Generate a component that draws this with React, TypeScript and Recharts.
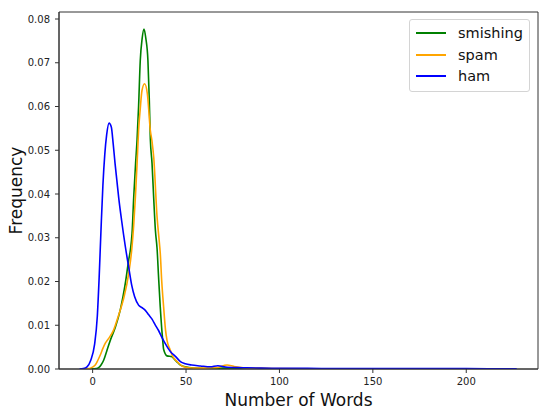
import { LineChart, Line, XAxis, YAxis, Legend, ReferenceArea } from 'recharts';

// x ticks and axis range
const xTicks = [0, 50, 100, 150, 200];
const yTicks = [0, 0.01, 0.02, 0.03, 0.04, 0.05, 0.06, 0.07, 0.08];
const X_MIN = -18;
const X_MAX = 238.4;
const Y_MAX = 0.0816;

// smishing density (number of words vs frequency)
const smishingWords = [-3, 0, 2, 3.2, 4.5, 5.9, 7.7, 9.5, 12.2, 14.8, 17.5, 19.3, 20.2, 21.1, 22, 23, 23.8, 24.6, 25.5, 26.5, 27.5, 28.5, 29.6, 30.3, 30.9, 31.8, 32.7, 33.6, 34.5, 35.3, 36.2, 37.5, 38, 39.8, 42.5, 43.4, 45, 47, 49.6, 54, 60, 70, 75, 85, 100, 115];
const smishingFreq = [0, 0.00005, 0.0001, 0.0003, 0.0009, 0.002, 0.0043, 0.0066, 0.0096, 0.0135, 0.0196, 0.0249, 0.0272, 0.031, 0.0393, 0.047, 0.0525, 0.06, 0.0705, 0.0755, 0.0777, 0.0755, 0.0705, 0.062, 0.0525, 0.047, 0.039, 0.0317, 0.0275, 0.021, 0.0142, 0.0066, 0.0045, 0.003, 0.0028, 0.0024, 0.0017, 0.0009, 0.0005, 0.0002, 0.0001, 0.0002, 0.0002, 0.0001, 0.00005, 0];

// spam density
const spamWords = [-5, -2, -1.2, 1.4, 2.8, 4.1, 5.5, 6.8, 8.6, 11.2, 13.9, 16.6, 19.3, 21.1, 22, 22.9, 23.8, 24.6, 25.5, 26.4, 27.8, 29.3, 30.9, 31.8, 32.7, 34.5, 35.7, 36.2, 37, 38, 39, 39.8, 41.6, 42.5, 45.2, 48.7, 54, 60, 66, 72, 75.5, 80.7, 90, 100, 120, 150];
const spamFreq = [0, 0.0001, 0.0002, 0.0009, 0.002, 0.0032, 0.0047, 0.0059, 0.007, 0.0089, 0.0123, 0.0161, 0.0218, 0.028, 0.033, 0.0393, 0.047, 0.0545, 0.0595, 0.0636, 0.0652, 0.0629, 0.0545, 0.052, 0.0484, 0.0347, 0.029, 0.0265, 0.02, 0.0142, 0.009, 0.0066, 0.0043, 0.0032, 0.0017, 0.0005, 0.0002, 0.0002, 0.0003, 0.0009, 0.0006, 0.0003, 0.0002, 0.0001, 0.00005, 0];

// ham density
const hamWords = [-7, -5, -3, -1, 1, 2.5, 3.5, 4.5, 5.5, 6.5, 7.5, 8.8, 10, 11, 12, 13, 14, 15.5, 17.5, 19.3, 21, 22.5, 24.6, 26.5, 28.2, 30, 31.8, 33.5, 35.3, 37, 38.9, 41.6, 44.3, 47, 49.6, 53, 57.7, 63, 67, 72, 80, 90, 100, 115, 130, 160, 200, 227];
const hamFreq = [0, 0.0001, 0.0005, 0.002, 0.0055, 0.012, 0.021, 0.032, 0.042, 0.049, 0.0535, 0.0562, 0.0553, 0.0515, 0.047, 0.043, 0.039, 0.034, 0.028, 0.0233, 0.019, 0.0165, 0.0146, 0.014, 0.0134, 0.0124, 0.0114, 0.0101, 0.0088, 0.0073, 0.0058, 0.004, 0.0029, 0.0017, 0.0012, 0.0009, 0.0007, 0.0005, 0.00075, 0.0004, 0.0003, 0.0002, 0.00015, 0.00015, 0.0001, 0.0001, 0.00008, 0.00003];

const toPoints = (xs: number[], ys: number[]) => xs.map((x, i) => ({ words: x, freq: ys[i] }));

const series = [
  { name: 'smishing', color: 'green', data: toPoints(smishingWords, smishingFreq) },
  { name: 'spam', color: 'orange', data: toPoints(spamWords, spamFreq) },
  { name: 'ham', color: 'blue', data: toPoints(hamWords, hamFreq) },
];

const font = '"DejaVu Sans", sans-serif';

function LegendBox() {
  // keep the plotting order, not alphabetical
  return (
    <div style={{ width: 119, height: 69, border: '1px solid #d4d4d4', borderRadius: 3, background: '#fff', boxSizing: 'content-box', paddingTop: 2, fontFamily: font, fontSize: 14.5, color: '#111' }}>
      {series.map((s) => (
        <div key={s.name} style={{ display: 'flex', alignItems: 'center', height: 21.7 }}>
          <span style={{ display: 'inline-block', width: 30, height: 0, borderTop: `2px solid ${s.color}`, marginLeft: 6, marginRight: 12 }} />
          <span>{s.name}</span>
        </div>
      ))}
    </div>
  );
}

export default function App() {
  return (
    <div style={{ position: 'absolute', left: 0, top: 0, width: 550, height: 413, background: '#fff' }}>
      <LineChart width={550} height={413} margin={{ top: 12, right: 12, bottom: 0, left: 0 }}>
        <XAxis
          dataKey="words"
          type="number"
          domain={[X_MIN, X_MAX]}
          ticks={xTicks}
          allowDataOverflow
          height={44}
          stroke="#333"
          tickSize={4}
          tickMargin={5}
          tick={{ fill: '#222', fontSize: 10, fontFamily: font }}
          label={{ value: 'Number of Words', position: 'insideBottom', offset: 7, fill: '#111', fontSize: 17, fontFamily: font }}
        />
        <YAxis
          type="number"
          domain={[0, Y_MAX]}
          ticks={yTicks}
          allowDataOverflow
          width={59}
          stroke="#333"
          tickSize={4}
          tickMargin={5}
          tickFormatter={(v: number) => v.toFixed(2)}
          tick={{ fill: '#222', fontSize: 10, fontFamily: font }}
          label={{ value: 'Frequency', angle: -90, position: 'insideLeft', offset: 16, fill: '#111', fontSize: 17, fontFamily: font, style: { textAnchor: 'middle' } }}
        />
        {/* plot frame (matplotlib spines) */}
        <ReferenceArea x1={X_MIN} x2={X_MAX} y1={0} y2={Y_MAX} fill="none" fillOpacity={0} stroke="#333" strokeWidth={1} ifOverflow="visible" />
        {series.map((s) => (
          <Line
            key={s.name}
            data={s.data}
            dataKey="freq"
            name={s.name}
            type="monotone"
            stroke={s.color}
            strokeWidth={1.6}
            dot={false}
            activeDot={false}
            isAnimationActive={false}
          />
        ))}
        <Legend
          layout="vertical"
          align="center"
          verticalAlign="middle"
          content={<LegendBox />}
          wrapperStyle={{ left: 409, top: 19, width: 'auto', height: 'auto' }}
        />
      </LineChart>
    </div>
  );
}
